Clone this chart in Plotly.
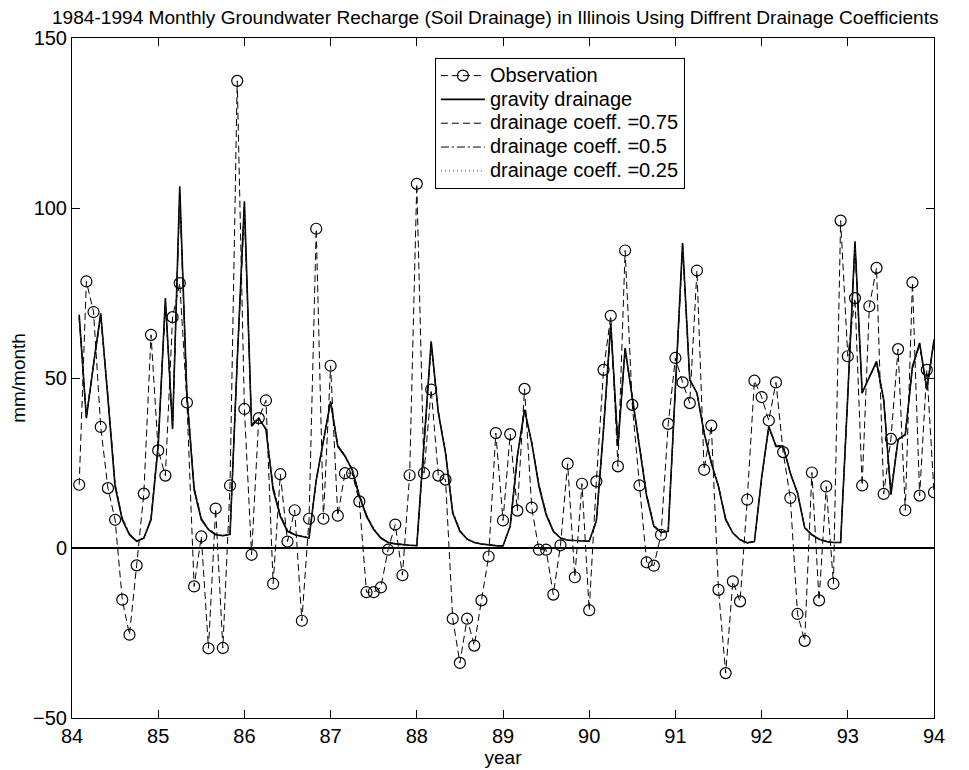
import plotly.graph_objects as go

# month index 1..120 from Jan 1984 to Dec 1993 (axis in years 84..94)
months = list(range(1, 121))
years = [84 + m / 12 for m in months]

observation = [
    18.6, 78.4, 69.4, 35.6, 17.6, 8.3, -15.2, -25.5, -5.1, 16.0, 62.7, 28.7,
    21.3, 67.9, 77.9, 42.8, -11.3, 3.4, -29.5, 11.6, -29.4, 18.4, 137.4, 40.9,
    -2.0, 38.2, 43.4, -10.5, 21.7, 1.9, 11.1, -21.4, 8.6, 93.9, 8.6, 53.6,
    9.5, 22.0, 22.0, 13.7, -13.0, -13.0, -11.6, -0.5, 6.9, -8.0, 21.4, 107.1,
    22.0, 46.6, 21.3, 20.1, -20.8, -33.8, -20.8, -28.7, -15.4, -2.5, 33.8, 8.1,
    33.5, 11.0, 46.8, 11.9, -0.5, -0.5, -13.7, 0.8, 24.8, -8.6, 18.9, -18.3,
    19.6, 52.4, 68.3, 24.0, 87.5, 42.1, 18.4, -4.2, -5.2, 3.9, 36.5, 55.9,
    48.7, 42.6, 81.6, 23.0, 36.0, -12.3, -36.8, -9.8, -15.7, 14.2, 49.2, 44.4,
    37.5, 48.7, 28.2, 14.7, -19.4, -27.3, 22.2, -15.4, 18.1, -10.5, 96.3, 56.4,
    73.5, 18.4, 71.1, 82.4, 15.9, 32.1, 58.5, 11.1, 78.1, 15.4, 52.4, 16.4,
]

gravity = [
    68.6, 38.2, 54.0, 69.0, 44.0, 18.0, 8.3, 3.9, 2.0, 2.9, 8.3, 30.0,
    73.5, 35.0, 106.4, 44.6, 17.1, 8.3, 5.4, 3.9, 3.6, 4.0, 55.0, 102.0,
    35.8, 38.2, 34.8, 17.1, 9.3, 4.9, 3.9, 3.4, 2.9, 20.0, 31.9, 43.1,
    29.9, 27.0, 23.0, 15.2, 9.3, 5.4, 2.9, 1.6, 1.2, 0.9, 0.8, 0.7,
    30.9, 60.8, 39.7, 27.9, 10.3, 4.9, 2.6, 1.6, 1.2, 0.9, 0.7, 0.6,
    6.4, 27.0, 40.7, 30.9, 18.1, 9.8, 4.9, 2.9, 2.3, 2.2, 2.1, 2.0,
    8.0, 35.0, 66.0, 30.0, 58.8, 44.6, 29.9, 15.2, 6.4, 4.6, 4.9, 47.5,
    89.7, 49.5, 45.6, 33.8, 25.0, 18.1, 8.3, 4.4, 2.4, 1.5, 1.9, 20.6,
    35.8, 29.9, 29.9, 22.0, 16.2, 5.9, 3.9, 2.6, 1.9, 1.6, 1.6, 45.0,
    90.2, 45.6, 50.5, 54.9, 43.6, 15.7, 31.9, 33.3, 53.4, 60.3, 46.6, 61.3,
]

coeff_075 = [
    68.0, 38.5, 54.0, 68.5, 44.5, 18.5, 8.5, 4.0, 2.0, 2.9, 8.5, 30.5,
    72.5, 35.5, 104.5, 45.0, 17.5, 8.5, 5.5, 4.0, 3.6, 4.0, 55.0, 100.5,
    36.0, 38.0, 35.0, 17.5, 9.5, 5.0, 3.9, 3.4, 2.9, 20.0, 31.5, 43.0,
    30.0, 27.0, 23.0, 15.5, 9.5, 5.5, 3.0, 1.7, 1.2, 0.9, 0.8, 0.7,
    30.5, 60.0, 40.0, 28.0, 10.5, 5.0, 2.6, 1.6, 1.2, 0.9, 0.7, 0.6,
    6.4, 27.0, 40.5, 31.0, 18.5, 10.0, 5.0, 2.9, 2.3, 2.2, 2.1, 2.0,
    8.0, 35.0, 65.5, 30.5, 58.5, 44.5, 30.0, 15.5, 6.5, 4.6, 4.9, 47.0,
    89.0, 49.5, 45.5, 34.0, 25.0, 18.0, 8.5, 4.4, 2.4, 1.5, 1.9, 20.5,
    35.5, 30.0, 30.0, 22.0, 16.0, 6.0, 3.9, 2.6, 1.9, 1.6, 1.6, 45.0,
    89.5, 45.5, 50.5, 54.5, 43.5, 16.0, 32.0, 33.5, 53.0, 60.0, 46.5, 61.0,
]

coeff_050 = [
    67.5, 38.8, 54.0, 68.0, 45.0, 19.0, 8.8, 4.2, 2.1, 3.0, 8.7, 31.0,
    72.0, 36.0, 103.0, 45.5, 18.0, 8.8, 5.6, 4.1, 3.7, 4.1, 55.0, 99.5,
    36.5, 38.0, 35.2, 18.0, 9.8, 5.2, 4.0, 3.5, 3.0, 20.0, 31.2, 42.8,
    30.2, 27.2, 23.2, 15.8, 9.8, 5.7, 3.1, 1.8, 1.3, 1.0, 0.8, 0.7,
    30.0, 59.5, 40.3, 28.2, 10.8, 5.2, 2.7, 1.7, 1.2, 0.9, 0.7, 0.6,
    6.4, 27.0, 40.3, 31.2, 18.8, 10.3, 5.1, 3.0, 2.3, 2.2, 2.1, 2.0,
    8.0, 35.0, 65.0, 31.0, 58.0, 44.8, 30.3, 15.8, 6.7, 4.7, 4.9, 46.5,
    88.5, 49.5, 45.5, 34.2, 25.2, 18.2, 8.7, 4.5, 2.5, 1.6, 1.9, 20.4,
    35.3, 30.2, 30.0, 22.2, 16.2, 6.2, 4.0, 2.7, 2.0, 1.6, 1.6, 45.0,
    89.0, 45.8, 50.3, 54.2, 43.5, 16.5, 32.0, 33.5, 52.8, 59.8, 46.5, 60.8,
]

coeff_025 = [
    67.0, 39.0, 54.0, 67.5, 45.5, 19.5, 9.0, 4.4, 2.2, 3.1, 9.0, 31.5,
    71.5, 36.5, 102.0, 46.0, 18.5, 9.0, 5.8, 4.2, 3.8, 4.2, 55.0, 98.5,
    37.0, 38.0, 35.5, 18.5, 10.0, 5.4, 4.1, 3.6, 3.1, 20.0, 31.0, 42.5,
    30.5, 27.5, 23.5, 16.0, 10.0, 5.9, 3.2, 1.9, 1.4, 1.0, 0.9, 0.8,
    29.5, 59.0, 40.6, 28.5, 11.0, 5.4, 2.8, 1.8, 1.3, 1.0, 0.8, 0.7,
    6.4, 27.0, 40.0, 31.5, 19.0, 10.6, 5.3, 3.1, 2.4, 2.3, 2.2, 2.1,
    8.0, 35.0, 64.5, 31.5, 57.5, 45.0, 30.6, 16.0, 6.9, 4.8, 5.0, 46.0,
    88.0, 49.5, 45.5, 34.5, 25.5, 18.4, 9.0, 4.6, 2.6, 1.7, 2.0, 20.3,
    35.0, 30.4, 30.0, 22.4, 16.4, 6.4, 4.1, 2.8, 2.1, 1.7, 1.7, 45.0,
    88.5, 46.0, 50.0, 54.0, 43.5, 17.0, 32.0, 33.5, 52.5, 59.5, 46.5, 60.5,
]

series_names = ["Observation", "gravity drainage", "drainage coeff. =0.75",
                "drainage coeff. =0.5", "drainage coeff. =0.25"]

x_ticks = [84, 85, 86, 87, 88, 89, 90, 91, 92, 93, 94]
x_tick_labels = ["84", "85", "86", "87", "88", "89", "90", "91", "92", "93", "94"]
y_ticks = [-50, 0, 50, 100, 150]

FONT = "Liberation Sans, Arial, sans-serif"


def big(name):
    # glyphs drawn at 20px while the legend rows keep the tighter 16px spacing
    return '<span style="font-size:20px">' + name + "</span>"


fig = go.Figure()
fig.add_trace(go.Scatter(
    x=years, y=observation, name=big(series_names[0]), mode="lines+markers",
    line=dict(color="black", width=1, dash="7px,4px"),
    marker=dict(symbol="circle-open", size=11, color="black", line=dict(width=1.2)),
))
fig.add_trace(go.Scatter(
    x=years, y=gravity, name=big(series_names[1]), mode="lines",
    line=dict(color="black", width=1.6),
))
fig.add_trace(go.Scatter(
    x=years, y=coeff_075, name=big(series_names[2]), mode="lines",
    line=dict(color="black", width=1, dash="7px,4px"),
))
fig.add_trace(go.Scatter(
    x=years, y=coeff_050, name=big(series_names[3]), mode="lines",
    line=dict(color="black", width=1, dash="8px,3px,2px,3px"),
))
fig.add_trace(go.Scatter(
    x=years, y=coeff_025, name=big(series_names[4]), mode="lines",
    line=dict(color="#444444", width=1, dash="1px,3px"),
))

# page body has an 8px margin, so the figure is sized 8px smaller than the window
fig.update_layout(
    template="none",
    width=961, height=762,
    paper_bgcolor="white", plot_bgcolor="white",
    margin=dict(l=63.5, r=34.5, t=30.3, b=51.7, pad=0),
    font=dict(family=FONT, size=20, color="black"),
    title=dict(
        text="1984-1994 Monthly Groundwater Recharge (Soil Drainage) in Illinois Using Diffrent Drainage Coefficients",
        x=0.507, xref="container", xanchor="center", y=0.988, yref="container", yanchor="middle",
        font=dict(family=FONT, size=19.1, color="black"),
    ),
    showlegend=True,
    legend=dict(
        x=0.421, y=0.971, xanchor="left", yanchor="top",
        bordercolor="black", borderwidth=1, bgcolor="white",
        font=dict(family=FONT, size=16, color="black"),
        tracegroupgap=0, itemwidth=44,
    ),
    xaxis=dict(
        range=[84, 94], tickmode="array", tickvals=x_ticks, ticktext=x_tick_labels,
        ticks="inside", ticklen=8, tickcolor="black", tickwidth=1,
        showline=True, linecolor="black", linewidth=1, mirror="ticks",
        showgrid=False, zeroline=False, automargin=False,
        title=dict(text="year", font=dict(family=FONT, size=19), standoff=2),
        tickfont=dict(family=FONT, size=20),
    ),
    yaxis=dict(
        range=[-50, 150], tickmode="array", tickvals=y_ticks,
        ticks="inside", ticklen=8, tickcolor="black", tickwidth=1,
        showline=True, linecolor="black", linewidth=1, mirror="ticks",
        showgrid=False, zeroline=True, zerolinecolor="black", zerolinewidth=1.5,
        automargin=False,
        title=dict(text="mm/month", font=dict(family=FONT, size=19), standoff=2),
        tickfont=dict(family=FONT, size=20),
    ),
)

fig.write_html("out.html")
